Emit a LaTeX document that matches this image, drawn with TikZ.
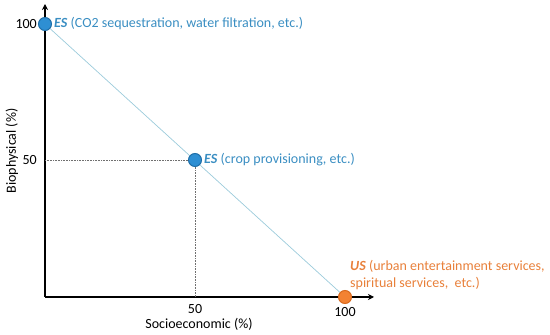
\documentclass[tikz,border=0pt]{standalone}
\usepackage{fontspec}
\setmainfont{Carlito}
\usetikzlibrary{positioning,arrows.meta}
\definecolor{esblue}{HTML}{2E8FD3}
\definecolor{esline}{HTML}{1F6FA8}
\definecolor{estext}{HTML}{3A8EC2}
\definecolor{usorange}{HTML}{F38232}
\definecolor{usline}{HTML}{D96A1E}
\definecolor{ustext}{HTML}{E8803A}
\definecolor{diag}{HTML}{9CCBDB}
\definecolor{guide}{HTML}{707070}
\tikzset{
  axis/.style   = {draw=black, line width=2.4pt, -{Stealth[length=6pt,width=6pt]}},
  dot/.style    = {circle, minimum size=13pt, inner sep=0pt, line width=1pt},
  esdot/.style  = {dot, fill=esblue, draw=esline},
  usdot/.style  = {dot, fill=usorange, draw=usline},
  tick/.style   = {font=\fontsize{14}{16}\selectfont\color{black}, inner sep=0pt},
  eslab/.style  = {font=\fontsize{14}{16}\selectfont\color{estext}, anchor=west, inner sep=0pt},
  uslab/.style  = {font=\fontsize{14}{17}\selectfont\color{ustext}, anchor=west, inner sep=0pt, align=left},
  guideline/.style = {draw=guide, densely dotted, line width=0.6pt},
}
\begin{document}
\begin{tikzpicture}[x=1pt,y=1pt]
\path[use as bounding box] (0,0) rectangle (550,335);

% ---- axes ---------------------------------------------------------------
\coordinate (o) at (45,38);
\coordinate (ytop) at (45,331);
\coordinate (xend) at (374,38);
\draw[axis] (o) -- (ytop);
\draw[axis] (o) -- (xend);

% ---- points -------------------------------------------------------------
\coordinate (es1) at (45,311);
\coordinate (es2) at (195,175);
\coordinate (us) at (345,38);
\coordinate (y50) at (45,175);
\coordinate (x50) at (195,38);

\draw[diag, line width=0.7pt] (es1) -- (us);
\draw[guideline] (y50) -- (es2);
\draw[guideline] (x50) -- (es2);

\node[esdot] (esa) at (es1) {};
\node[esdot] (esb) at (es2) {};
\node[usdot] (usc) at (us) {};

% ---- labels -------------------------------------------------------------
\node[eslab, right=2pt of esa] (esatext) {\textbf{\textit{ES}} (CO2 sequestration, water filtration, etc.)};
\node[eslab, right=2pt of esb] (esbtext) {\textbf{\textit{ES}} (crop provisioning, etc.)};
\node[uslab, anchor=south west] (usctext) at (350,45) {\textbf{\textit{US}} (urban entertainment services,\\spiritual services,\ \ etc.)};

\node[tick, anchor=east] (y100) at (37,311) {100};
\node[tick, anchor=east] (y50t) at (37,175) {50};
\node[tick] (x50t) at (195,26) {50};
\node[tick] (x100t) at (345,23) {100};
\node[tick] (xlab) at (199,11) {Socioeconomic (\%)};
\node[tick, rotate=90] (ylab) at (12,184) {Biophysical (\%)};

\end{tikzpicture}
\end{document}
